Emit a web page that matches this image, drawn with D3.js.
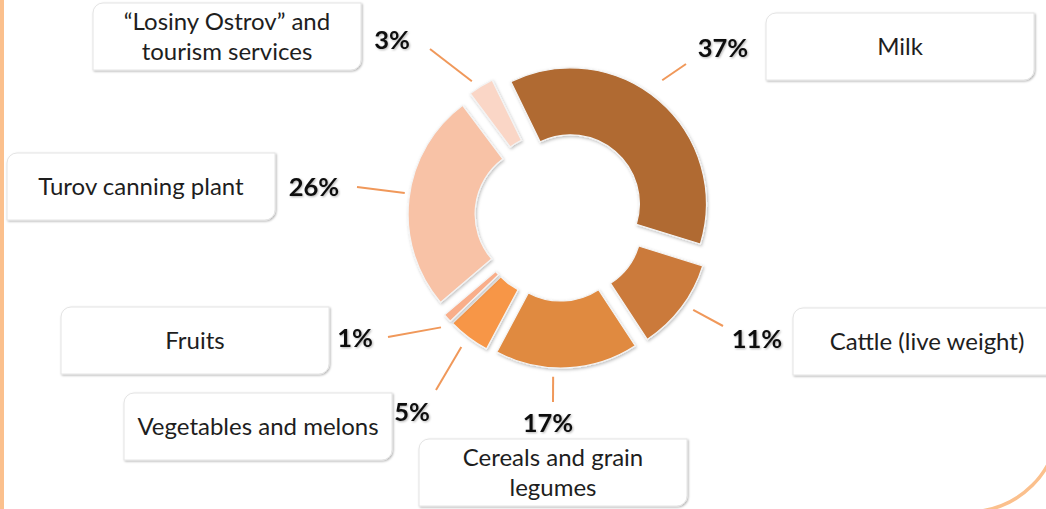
<!DOCTYPE html>
<meta charset="utf-8">
<head>
  <title>Production structure (exploded donut)</title>
</head>
<style>
body { margin: 0; background: #fff; }
svg { display: block; font-family: Lato, "Open Sans", sans-serif; }
.box { fill: #fff; stroke: #e4e4e4; stroke-width: 1; }
.box-text { font-size: 24px; fill: #1e1e1e; text-anchor: middle; }
.pct { font-size: 25.5px; font-weight: bold; fill: #111; text-anchor: middle; }
.leader { stroke: #f0985a; stroke-width: 2; }
</style>
<body>
<svg width="1046" height="509"></svg>
<script src="https://cdnjs.cloudflare.com/ajax/libs/d3/7.8.5/d3.min.js"></script>
<script>

// categories, clockwise from the top
var categories = [
    "Milk",
    "Cattle (live weight)",
    "Cereals and grain legumes",
    "Vegetables and melons",
    "Fruits",
    "Turov canning plant",
    "\u201cLosiny Ostrov\u201d and tourism services"
];
var shares = [37, 11, 17, 5, 1, 26, 3];   // percent
var pctLabels = ["37%", "11%", "17%", "5%", "1%", "26%", "3%"];

var colors = ["#b06a32", "#cb7a3b", "#e08a40", "#f79646", "#f9ae8a", "#f8c2a6", "#fad6c6"];

// label boxes [x, y] of top-left corner, percent label [cx, baseline], leader end
var boxes = [[766, 13], [793, 308], [419, 439], [124, 393], [61, 307], [7, 153], [93, 3]];
var pctPos = [[723, 57], [757, 348], [548, 432], [412, 421], [355, 347], [314, 196], [392, 49]];
var leaderEnd = [[686, 64], [723, 326], [553, 402], [436, 390], [388, 337], [357, 187], [430, 49]];
var leaderTweak = [[-4, 18], [-2, 11], [5.6, 9], [0, 12], [-1, 11], [2.3, 5], [-2, 9]]; // [deg, gap]

var cx = 560, cy = 216, rIn = 69, rOut = 136, explode = 16;
var boxW = 268, boxH = 67;
var start = -26 * Math.PI / 180;

var svg = d3.select("svg");

var defs = svg.append("defs");
var sh = defs.append("filter").attr("id", "sh").attr("x", "-20%").attr("y", "-20%").attr("width", "140%").attr("height", "140%");
sh.append("feDropShadow").attr("dx", 1).attr("dy", 1.5).attr("stdDeviation", 1.5)
    .attr("flood-color", "#000").attr("flood-opacity", 0.25);
var sh2 = defs.append("filter").attr("id", "sh2");
sh2.append("feDropShadow").attr("dx", 1).attr("dy", 1).attr("stdDeviation", 0.8)
    .attr("flood-color", "#000").attr("flood-opacity", 0.3);

// slide frame bits
svg.append("rect").attr("x", 0).attr("y", 0).attr("width", 4).attr("height", 509).attr("fill", "#fbc08d");
svg.append("path").attr("d", "M1059,421 A91,91 0 0 1 968,512")
    .attr("fill", "none").attr("stroke", "#fbc08d").attr("stroke-width", 3.5);

var pie = d3.pie().sort(null).value(d => d).startAngle(start).endAngle(start + 2 * Math.PI);
var arcs = pie(shares);
var arc = d3.arc().innerRadius(rIn).outerRadius(rOut);

function apex(d) {
    var m = (d.startAngle + d.endAngle) / 2;
    return [cx + Math.sin(m) * explode, cy - Math.cos(m) * explode];
}

// leader lines
svg.append("g").selectAll("line")
    .data(arcs)
    .join("line")
    .attr("class", "leader")
    .each(function(d, i) {
        var a = apex(d);
        var m = (d.startAngle + d.endAngle) / 2 + leaderTweak[i][0] * Math.PI / 180;
        var r = rOut + leaderTweak[i][1];
        d3.select(this)
            .attr("x1", a[0] + Math.sin(m) * r).attr("y1", a[1] - Math.cos(m) * r)
            .attr("x2", leaderEnd[i][0]).attr("y2", leaderEnd[i][1]);
    });

// slices
svg.append("g").selectAll("path")
    .data(arcs)
    .join("path")
    .attr("transform", d => "translate(" + apex(d) + ")")
    .attr("d", arc)
    .attr("fill", (d, i) => colors[i])
    .attr("stroke", "#f4f4f4")
    .attr("stroke-width", 1.2)
    .attr("filter", "url(#sh)");

// rounded top-left / bottom-right box
function boxPath(x, y, w, h, r) {
    return "M" + x + "," + (y + r) + " A" + r + "," + r + " 0 0 1 " + (x + r) + "," + y +
        " H" + (x + w) + " V" + (y + h - r) + " A" + r + "," + r + " 0 0 1 " + (x + w - r) + "," + (y + h) +
        " H" + x + " Z";
}

var labels = svg.append("g").selectAll("g")
    .data(categories)
    .join("g");

labels.append("path")
    .attr("class", "box")
    .attr("d", (d, i) => boxPath(boxes[i][0], boxes[i][1], boxW, boxH, 10))
    .attr("filter", "url(#sh2)");

labels.each(function(name, i) {
    var g = d3.select(this);
    var t = g.append("text").attr("class", "box-text");
    // wrap to box width
    var words = name.split(" "), lines = [], cur = [];
    var probe = t.append("tspan");
    words.forEach(function(w) {
        cur.push(w);
        probe.text(cur.join(" "));
        if (probe.node().getComputedTextLength() > boxW - 14 && cur.length > 1) {
            cur.pop();
            lines.push(cur.join(" "));
            cur = [w];
        }
    });
    lines.push(cur.join(" "));
    probe.remove();
    var midX = boxes[i][0] + boxW / 2;
    var midY = boxes[i][1] + boxH / 2 + 8.5;
    var lh = 30;
    lines.forEach(function(l, k) {
        t.append("tspan")
            .attr("x", midX)
            .attr("y", midY + (k - (lines.length - 1) / 2) * lh)
            .text(l);
    });
});

svg.append("g").selectAll("text")
    .data(pctLabels)
    .join("text")
    .attr("class", "pct")
    .attr("x", (d, i) => pctPos[i][0])
    .attr("y", (d, i) => pctPos[i][1])
    .attr("filter", "url(#sh2)")
    .text(d => d);

</script>
</body>
